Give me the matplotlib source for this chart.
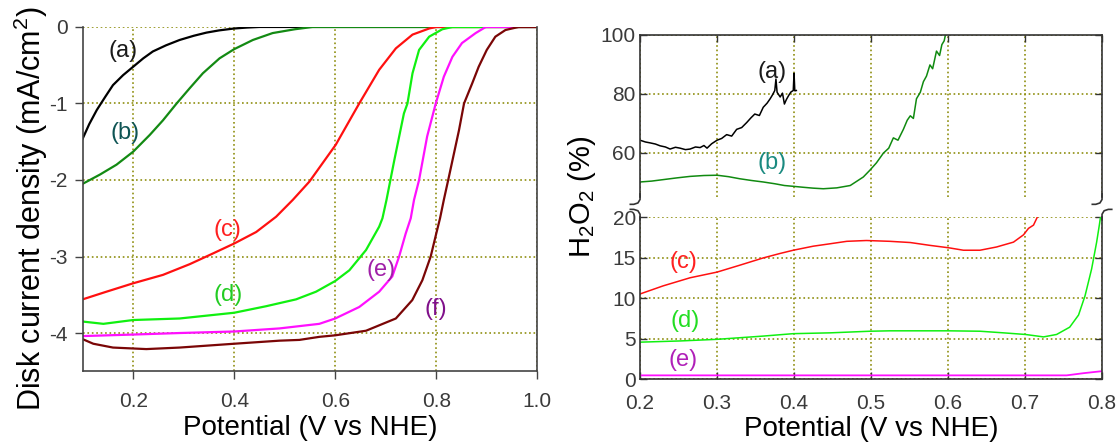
import numpy as np
import matplotlib.pyplot as plt
import matplotlib.transforms as mtransforms

plt.rcParams['font.family'] = ['Liberation Sans', 'DejaVu Sans']
plt.rcParams['axes.unicode_minus'] = False
plt.rcParams['mathtext.fontset'] = 'custom'
plt.rcParams['mathtext.rm'] = 'Liberation Sans'

# ---- disk current density, left panel (V vs NHE, mA/cm2) ----
a_v = [0.100, 0.113, 0.128, 0.145, 0.160, 0.180, 0.200, 0.220, 0.239, 0.265, 0.292, 0.320,
       0.345, 0.370, 0.400, 0.425, 0.450, 1.000]
a_j = [-1.46, -1.27, -1.085, -0.91, -0.76, -0.63, -0.52, -0.41, -0.32, -0.24, -0.17, -0.115,
       -0.074, -0.045, -0.02, -0.008, 0.0, 0.0]

b_v = [0.100, 0.134, 0.167, 0.200, 0.233, 0.259, 0.286, 0.312, 0.338, 0.371, 0.400, 0.437,
       0.476, 0.520, 0.555, 1.000]
b_j = [-2.05, -1.93, -1.80, -1.63, -1.41, -1.22, -1.00, -0.80, -0.605, -0.41, -0.29, -0.17,
       -0.08, -0.03, 0.0, 0.0]

c_v = [0.100, 0.147, 0.200, 0.259, 0.312, 0.358, 0.400, 0.4435, 0.483, 0.516, 0.549, 0.601,
       0.6475, 0.687, 0.720, 0.753, 0.786, 0.800, 1.000]
c_j = [-3.56, -3.46, -3.35, -3.24, -3.10, -2.96, -2.83, -2.68, -2.48, -2.26, -2.02, -1.54,
       -1.00, -0.56, -0.28, -0.10, -0.02, 0.0, 0.0]

d_v = [0.100, 0.141, 0.200, 0.292, 0.400, 0.463, 0.5225, 0.562, 0.600, 0.628, 0.661, 0.687,
       0.6935, 0.7015, 0.717, 0.736, 0.743, 0.753, 0.766, 0.786, 0.812, 0.832, 1.000]
d_j = [-3.85, -3.88, -3.83, -3.81, -3.735, -3.65, -3.56, -3.46, -3.32, -3.18, -2.915, -2.61,
       -2.50, -2.26, -1.74, -1.13, -1.00, -0.605, -0.30, -0.127, -0.03, 0.0, 0.0]

e_v = [0.100, 0.200, 0.292, 0.400, 0.4895, 0.529, 0.5685, 0.600, 0.6475, 0.687, 0.713, 0.7265,
       0.7395, 0.7495, 0.756, 0.766, 0.782, 0.799, 0.815, 0.832, 0.851, 0.878, 0.898, 1.000]
e_j = [-4.04, -4.02, -4.00, -3.98, -3.94, -3.91, -3.88, -3.81, -3.66, -3.46, -3.26, -3.00,
       -2.70, -2.50, -2.26, -2.00, -1.43, -1.00, -0.65, -0.39, -0.21, -0.08, 0.0, 0.0]

f_v = [0.100, 0.121, 0.160, 0.226, 0.292, 0.400, 0.4895, 0.529, 0.5685, 0.600, 0.661, 0.720,
       0.7525, 0.7725, 0.789, 0.800, 0.8075, 0.815, 0.825, 0.845, 0.855, 0.871, 0.884, 0.900,
       0.917, 0.937, 0.963, 1.000]
f_j = [-4.08, -4.14, -4.19, -4.21, -4.19, -4.14, -4.10, -4.09, -4.05, -4.03, -3.97, -3.81,
       -3.57, -3.31, -3.00, -2.70, -2.50, -2.26, -1.96, -1.35, -1.00, -0.74, -0.52, -0.30,
       -0.127, -0.04, 0.0, 0.0]

# ---- H2O2 yield, right panel (%) ----
ra_v = [0.200, 0.207, 0.213, 0.220, 0.226, 0.233, 0.239, 0.246, 0.252, 0.259, 0.265, 0.272,
        0.278, 0.283, 0.287, 0.293, 0.300, 0.306, 0.3125, 0.319, 0.3255, 0.332, 0.3385, 0.344,
        0.349, 0.355, 0.360, 0.365, 0.369, 0.372, 0.375, 0.3765, 0.378, 0.382, 0.385, 0.3875,
        0.390, 0.393, 0.396, 0.399, 0.400, 0.401, 0.403]
ra_p = [64.2, 63.6, 63.3, 62.9, 62.3, 61.9, 61.2, 61.8, 61.5, 61.0, 61.2, 61.9,
        61.7, 62.4, 61.5, 63.0, 64.2, 64.8, 66.1, 65.6, 67.9, 68.5, 70.2, 71.8,
        73.1, 72.6, 75.4, 76.8, 78.3, 79.6, 81.1, 85.0, 80.5, 78.9, 80.2, 76.5,
        78.0, 79.4, 80.6, 81.1, 87.0, 81.0, 81.1]

rb_v = [0.200, 0.215, 0.230, 0.248, 0.265, 0.283, 0.300, 0.315, 0.3295, 0.345, 0.360, 0.375,
        0.3875, 0.400, 0.412, 0.425, 0.438, 0.4555, 0.473, 0.490, 0.4985, 0.507, 0.516, 0.523,
        0.529, 0.535, 0.542, 0.547, 0.551, 0.555, 0.559, 0.564, 0.568, 0.572, 0.5765, 0.580,
        0.585, 0.589, 0.592, 0.595, 0.597]
rb_p = [50.0, 50.3, 50.8, 51.4, 51.9, 52.2, 52.3, 51.8, 51.1, 50.5, 50.0, 49.4,
        48.8, 48.5, 48.2, 47.9, 47.7, 48.0, 48.8, 51.7, 54.0, 56.5, 59.8, 61.5,
        65.0, 64.2, 67.9, 71.0, 72.5, 71.6, 78.3, 80.5, 84.1, 86.0, 89.8, 88.5,
        94.5, 93.0, 96.7, 98.0, 100.5]

rc_v = [0.200, 0.230, 0.265, 0.300, 0.3295, 0.360, 0.3818, 0.399, 0.425, 0.447, 0.4685, 0.494,
        0.5245, 0.551, 0.5765, 0.601, 0.620, 0.6415, 0.663, 0.685, 0.698, 0.7045, 0.711, 0.716]
rc_p = [10.5, 11.5, 12.5, 13.2, 14.05, 14.95, 15.5, 15.9, 16.4, 16.7, 17.0, 17.1,
        17.0, 16.85, 16.5, 16.2, 15.9, 15.9, 16.3, 16.9, 17.8, 18.6, 19.0, 20.0]

rd_v = [0.200, 0.252, 0.300, 0.360, 0.399, 0.447, 0.4985, 0.5245, 0.5635, 0.601, 0.6415, 0.672,
        0.7005, 0.724, 0.741, 0.758, 0.7695, 0.778, 0.7865, 0.793, 0.7965, 0.798]
rd_p = [4.55, 4.7, 4.9, 5.3, 5.6, 5.7, 5.9, 5.95, 5.95, 5.95, 5.9, 5.7,
        5.5, 5.2, 5.5, 6.4, 7.9, 10.3, 13.6, 16.9, 19.0, 20.0]

re_v = [0.200, 0.400, 0.600, 0.754, 0.776, 0.800]
re_p = [0.45, 0.45, 0.45, 0.45, 0.72, 0.97]

left_xticks = [0.2, 0.4, 0.6, 0.8, 1.0]
left_yticks = [0, -1, -2, -3, -4]
right_xticks = [0.2, 0.3, 0.4, 0.5, 0.6, 0.7, 0.8]
top_yticks = [60, 80, 100]
bot_yticks = [0, 5, 10, 15, 20]

GRID = dict(linestyle=':', color='#8f8f10', linewidth=1.2)
TICKCOL = '#3a3a3a'

fig = plt.figure(figsize=(11.17, 4.42), dpi=100)

# left panel
ax = fig.add_axes([0.074, 0.160, 0.407, 0.779])
ax.plot(a_v, a_j, color='black', lw=1.6)
ax.plot(b_v, b_j, color='#138a13', lw=1.6)
ax.plot(c_v, c_j, color='#ff1010', lw=1.6)
ax.plot(d_v, d_j, color='#10f010', lw=1.6)
ax.plot(e_v, e_j, color='#ff10ff', lw=1.6)
ax.plot(f_v, f_j, color='#7a0606', lw=1.6)
ax.set_xlim(0.1, 1.0)
ax.set_ylim(-4.5, 0)
ax.set_xticks(left_xticks, [f'{t:.1f}' for t in left_xticks])
ax.set_yticks(left_yticks, [str(t) for t in left_yticks])
ax.grid(True, **GRID)
ax.spines['top'].set_visible(False)
for s in ax.spines.values():
    s.set_color('#444444')
    s.set_linewidth(1.2)
ax.tick_params(direction='out', length=6, width=1, color='#444444', labelsize=15,
               labelcolor=TICKCOL)
ax.tick_params(axis='x', pad=9)
ax.tick_params(axis='y', pad=5)
ax.set_xlabel('Potential (V vs NHE)', fontsize=20, labelpad=3)
fig.text(0.0278, 0.529, 'Disk current density (mA/cm$\\mathregular{^2}$)', rotation=90,
         fontsize=22, ha='center', va='center')

ax.text(0.18, -0.32, '(a)', color='#1a1a1a', fontsize=17, ha='center', va='center')
ax.text(0.183, -1.39, '(b)', color='#0e5454', fontsize=17, ha='center', va='center')
ax.text(0.387, -2.65, '(c)', color='#ff2020', fontsize=17, ha='center', va='center')
ax.text(0.387, -3.50, '(d)', color='#22cc22', fontsize=17, ha='center', va='center')
ax.text(0.69, -3.18, '(e)', color='#a020a8', fontsize=17, ha='center', va='center')
ax.text(0.799, -3.68, '(f)', color='#80108a', fontsize=17, ha='center', va='center')

# right panel: broken y axis
axt = fig.add_axes([0.573, 0.555, 0.4136, 0.366])
axb = fig.add_axes([0.573, 0.1425, 0.4136, 0.3665])

axt.plot(ra_v, ra_p, color='black', lw=1.1)
axt.plot(rb_v, rb_p, color='#108a10', lw=1.1)
axb.plot(rc_v, rc_p, color='#ff1010', lw=1.1)
axb.plot(rd_v, rd_p, color='#10f010', lw=1.1)
axb.plot(re_v, re_p, color='#ff10ff', lw=1.3)

axt.set_ylim(45, 100)
axb.set_ylim(0, 20)
for a in (axt, axb):
    a.set_xlim(0.2, 0.8)
    a.set_xticks(right_xticks)
    a.grid(True, **GRID)
    for s in a.spines.values():
        s.set_color('#333333')
        s.set_linewidth(1.2)
    a.tick_params(direction='in', length=5, width=1, color='#333333', labelsize=15,
                  labelcolor=TICKCOL, left=True, right=True)
    a.tick_params(axis='y', pad=3)
    a.tick_params(axis='x', pad=11)

axt.set_yticks(top_yticks, [str(t) for t in top_yticks])
axt.spines['bottom'].set_visible(False)
axt.tick_params(axis='x', top=True, bottom=False, labelbottom=False)
axb.set_yticks(bot_yticks, [str(t) for t in bot_yticks])
axb.set_xticks(right_xticks, [f'{t:.1f}' for t in right_xticks])
axb.spines['top'].set_visible(False)
axb.tick_params(axis='x', top=False, bottom=True)
axb.set_xlabel('Potential (V vs NHE)', fontsize=20, labelpad=2)

fig.text(0.521, 0.554, 'H$\\mathregular{_2}$O$\\mathregular{_2}$ (%)', rotation=90,
         fontsize=21, ha='center', va='center')

axt.text(0.371, 87.5, '(a)', color='#1a1a1a', fontsize=17, ha='center', va='center')
axt.text(0.371, 56.3, '(b)', color='#1a8a80', fontsize=17, ha='center', va='center')
axb.text(0.256, 14.45, '(c)', color='#ff2020', fontsize=17, ha='center', va='center')
axb.text(0.258, 7.2, '(d)', color='#22dd22', fontsize=17, ha='center', va='center')
axb.text(0.256, 2.3, '(e)', color='#b020b8', fontsize=17, ha='center', va='center')


# small curled ends marking the axis break
def hook(a, x0, y0, px, py):
    tr = mtransforms.Affine2D().scale(fig.dpi / 72.0) + \
        mtransforms.ScaledTranslation(x0, y0, a.transAxes)
    a.plot(px, py, color='#333333', lw=1.2, transform=tr, clip_on=False)


hook(axt, 0, 0, [0, 0, -1.5, -4.5, -7], [2, -2, -4.5, -5.5, -5.5])
hook(axb, 0, 1, [0, 0, -1.5, -4.5, -7], [-2, 2, 4.5, 5.5, 5.5])
hook(axt, 1, 0, [0, 0, -1.5, -4.5, -7], [2, -2, -4.5, -5.5, -5.5])
hook(axb, 1, 1, [0, 0, 1.5, 4.5, 7], [-2, 2, 4.5, 5.5, 5.5])

fig.savefig('out.png', dpi=100)
